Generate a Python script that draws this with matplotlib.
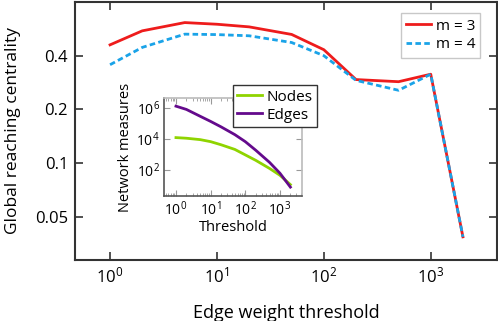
import math
import matplotlib
matplotlib.use("Agg")
import matplotlib.pyplot as plt
from matplotlib.ticker import FixedLocator, FuncFormatter, LogLocator, NullFormatter, NullLocator

plt.rcParams["font.family"] = ["Open Sans", "DejaVu Sans"]
plt.rcParams["mathtext.fontset"] = "custom"
plt.rcParams["mathtext.rm"] = "Open Sans"
plt.rcParams["mathtext.default"] = "regular"

# main panel data
thresholds = [1, 2, 5, 10, 20, 50, 100, 200, 500, 1000, 2000]
grc_m3 = [0.46, 0.551, 0.613, 0.60, 0.58, 0.526, 0.432, 0.294, 0.286, 0.315, 0.0387]
grc_m4 = [0.356, 0.445, 0.528, 0.525, 0.517, 0.474, 0.40, 0.291, 0.256, 0.315, 0.0387]

# inset data (log10 of counts)
log_edges = [6.11, 5.9, 5.46, 5.13, 4.78, 4.28, 3.83, 3.28, 2.5, 1.8, 0.91]
log_nodes = [4.09, 4.05, 3.96, 3.83, 3.63, 3.33, 2.98, 2.63, 2.11, 1.67, 1.07]

red = "#ee1c1c"
blue = "#1aa3e8"
green = "#8fd400"
purple = "#640a8c"
spine_c = "#333333"


def pow10(v, pos):
    return r"$10^{%d}$" % round(math.log10(v))


fig = plt.figure(figsize=(4.98, 3.21), dpi=100)
ax = fig.add_axes([0.1506, 0.19, 0.847, 0.804])

ax.plot(thresholds, grc_m3, color=red, lw=2, label="m = 3")
ax.plot(thresholds, grc_m4, color=blue, lw=2, ls=(0, (2, 1.2)), label="m = 4")

ax.set_xscale("log")
ax.set_yscale("log", base=2)
ax.set_xlim(0.47, 4150)
ax.set_ylim(0.0287, 0.8)
ax.xaxis.set_major_locator(FixedLocator([1, 10, 100, 1000]))
ax.xaxis.set_minor_locator(NullLocator())
ax.xaxis.set_major_formatter(FuncFormatter(pow10))
ax.yaxis.set_major_locator(FixedLocator([0.05, 0.1, 0.2, 0.4]))
ax.yaxis.set_minor_locator(NullLocator())
ax.yaxis.set_major_formatter(FuncFormatter(lambda v, p: f"{v:g}"))
ax.tick_params(direction="in", top=True, right=True, length=6, width=1.2,
               labelsize=12, color=spine_c, pad=5)
for s in ax.spines.values():
    s.set_color(spine_c)
    s.set_linewidth(1.5)
ax.set_xlabel("Edge weight threshold", fontsize=13, labelpad=12)
ax.set_ylabel("Global reaching centrality", fontsize=12.5, labelpad=10)
leg = ax.legend(loc="upper right", bbox_to_anchor=(0.961, 0.956), borderaxespad=0,
                fontsize=11, frameon=True, fancybox=False,
                handlelength=1.6, handletextpad=0.3, borderpad=0.35, labelspacing=0.25)
leg.get_frame().set_edgecolor("#bbbbbb")
leg.get_frame().set_linewidth(1.0)

# inset
ins = fig.add_axes([0.329, 0.389, 0.277, 0.305])
ins.plot(thresholds, [10 ** v for v in log_nodes], color=green, lw=2, label="Nodes")
ins.plot(thresholds, [10 ** v for v in log_edges], color=purple, lw=2, label="Edges")
ins.set_xscale("log")
ins.set_yscale("log")
ins.set_xlim(10 ** -0.35, 10 ** 3.63)
ins.set_ylim(10 ** 0.33, 10 ** 6.62)
ins.xaxis.set_major_locator(FixedLocator([1, 10, 100, 1000]))
ins.xaxis.set_minor_locator(LogLocator(base=10, subs=range(2, 10), numticks=20))
ins.xaxis.set_minor_formatter(NullFormatter())
ins.xaxis.set_major_formatter(FuncFormatter(pow10))
ins.yaxis.set_major_locator(FixedLocator([100, 1e4, 1e6]))
ins.yaxis.set_minor_locator(NullLocator())
ins.yaxis.set_major_formatter(FuncFormatter(pow10))
ins.tick_params(which="both", direction="in", top=True, right=True, color="#999999", labelsize=10, pad=3)
ins.tick_params(which="major", length=4)
ins.tick_params(which="minor", length=2)
ins.spines["left"].set_color("#555555")
ins.spines["bottom"].set_color("#555555")
ins.spines["top"].set_color("#bbbbbb")
ins.spines["right"].set_color("#bbbbbb")
for s in ins.spines.values():
    s.set_linewidth(1.2)
ins.set_xlabel("Threshold", fontsize=10.5, labelpad=1)
ins.set_ylabel("Network measures", fontsize=10.5, labelpad=2)
ileg = ins.legend(loc="upper right", bbox_to_anchor=(1.11, 1.133), borderaxespad=0,
                  fontsize=11, frameon=True, fancybox=False, handlelength=1.6,
                  handletextpad=0.3, borderpad=0.3, labelspacing=0.2, framealpha=1)
ileg.get_frame().set_edgecolor("#333333")
ileg.get_frame().set_linewidth(1.0)

fig.savefig("out.png", dpi=100)
